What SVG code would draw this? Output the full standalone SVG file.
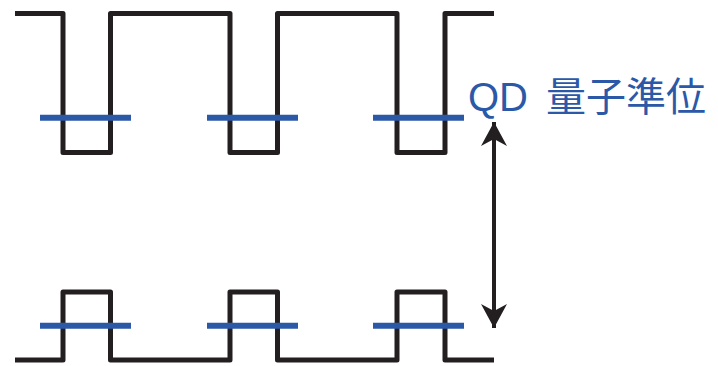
<svg xmlns="http://www.w3.org/2000/svg" width="718" height="366" viewBox="0 0 718 366">
<defs>
<style>
.wave{fill:none;stroke:#231f20;stroke-width:5;stroke-linejoin:round}
.lvl{stroke:#2b59a8;stroke-width:6}
.lbl{font-family:"Liberation Sans","Noto Sans CJK JP",sans-serif;font-size:40px;fill:#2b59a8}
</style>
<marker id="ah" viewBox="0 0 26 36" refX="24" refY="13" markerWidth="26" markerHeight="36" markerUnits="userSpaceOnUse" orient="auto-start-reverse">
<path d="M24 13 L0 0 L7 13 L0 26 Z" fill="#231f20"/>
</marker>
</defs>
<rect width="718" height="366" fill="#fff"/>
<g id="top-wave">
<path class="wave" d="M15 13.5 H63 V152.5 H110.5 V13.5 H230 V152.5 H277.5 V13.5 H397 V152.5 H445 V13.5 H494"/>
</g>
<g id="bottom-wave">
<path class="wave" d="M15 360 H63 V292 H110.5 V360 H230 V292 H277.5 V360 H397 V292 H445 V360 H494"/>
</g>
<g id="top-levels">
<line class="lvl" x1="40" y1="117.7" x2="131" y2="117.7"/>
<line class="lvl" x1="207" y1="117.7" x2="298" y2="117.7"/>
<line class="lvl" x1="373" y1="117.7" x2="464" y2="117.7"/>
</g>
<g id="bottom-levels">
<line class="lvl" x1="40" y1="325.7" x2="131" y2="325.7"/>
<line class="lvl" x1="207" y1="325.7" x2="298" y2="325.7"/>
<line class="lvl" x1="373" y1="325.7" x2="464" y2="325.7"/>
</g>
<g id="connectors">
<line x1="494" y1="122" x2="494" y2="328" stroke="#231f20" stroke-width="4" marker-start="url(#ah)" marker-end="url(#ah)"/>
</g>
<g id="label">
<text class="lbl" x="468" y="110.5">QD<tspan x="546">量子準位</tspan></text>
</g>
</svg>
